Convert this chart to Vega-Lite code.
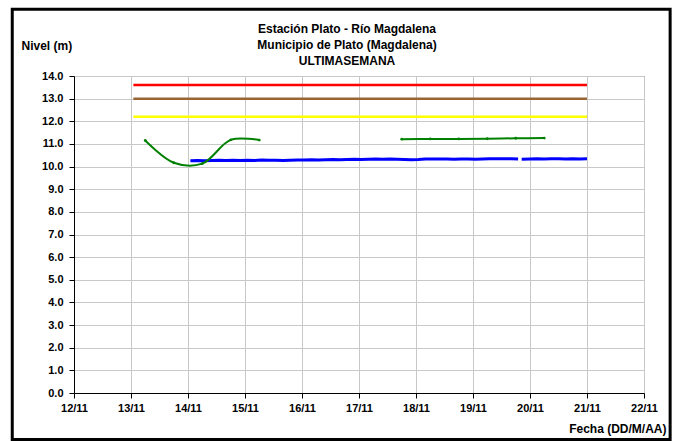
{
  "$schema": "https://vega.github.io/schema/vega-lite/v6.json",
  "autosize": {"type": "none"},
  "width": 570,
  "height": 317,
  "padding": {"left": 74, "top": 76, "right": 35, "bottom": 48},
  "background": "white",
  "config": {
    "font": "Liberation Sans",
    "view": {"stroke": "#808080", "strokeWidth": 1},
    "axis": {
      "labelFont": "Liberation Sans", "labelFontWeight": "bold", "labelFontSize": 11, "labelColor": "black",
      "titleFont": "Liberation Sans", "titleFontWeight": "bold", "titleFontSize": 12, "titleColor": "black",
      "domainColor": "black", "domainWidth": 1, "tickColor": "black", "tickSize": 5,
      "gridColor": "#c8c8c8", "gridWidth": 1, "gridOpacity": 1, "labelOverlap": false
    }
  },
  "title": {
    "text": ["Estación Plato - Río Magdalena", "Municipio de Plato (Magdalena)", "ULTIMASEMANA"],
    "frame": "group", "anchor": "middle", "dx": -12, "dy": 69, "offset": 9,
    "font": "Liberation Sans", "fontSize": 12, "fontWeight": "bold", "lineHeight": 16, "color": "black"
  },
  "resolve": {"axis": {"x": "independent", "y": "independent"}},
  "datasets": {
    "umbrales": [
      {"serie": "Roja", "t": "2012-11-13T01:00", "v": 13.6},
      {"serie": "Roja", "t": "2012-11-21T00:00", "v": 13.6},
      {"serie": "Naranja", "t": "2012-11-13T01:00", "v": 13.0},
      {"serie": "Naranja", "t": "2012-11-21T00:00", "v": 13.0},
      {"serie": "Amarilla", "t": "2012-11-13T01:00", "v": 12.2},
      {"serie": "Amarilla", "t": "2012-11-21T00:00", "v": 12.2}
    ],
    "nivel": [
      {"seg": "b1", "t": "2012-11-14T01:00", "v": 10.26},
      {"seg": "b1", "t": "2012-11-14T04:00", "v": 10.27},
      {"seg": "b1", "t": "2012-11-14T07:00", "v": 10.26},
      {"seg": "b1", "t": "2012-11-14T10:00", "v": 10.27},
      {"seg": "b1", "t": "2012-11-14T13:00", "v": 10.28},
      {"seg": "b1", "t": "2012-11-14T16:00", "v": 10.27},
      {"seg": "b1", "t": "2012-11-14T19:00", "v": 10.28},
      {"seg": "b1", "t": "2012-11-14T22:00", "v": 10.27},
      {"seg": "b1", "t": "2012-11-15T01:00", "v": 10.28},
      {"seg": "b1", "t": "2012-11-15T04:00", "v": 10.27},
      {"seg": "b1", "t": "2012-11-15T07:00", "v": 10.29},
      {"seg": "b1", "t": "2012-11-15T10:00", "v": 10.28},
      {"seg": "b1", "t": "2012-11-15T13:00", "v": 10.28},
      {"seg": "b1", "t": "2012-11-15T16:00", "v": 10.27},
      {"seg": "b1", "t": "2012-11-15T19:00", "v": 10.28},
      {"seg": "b1", "t": "2012-11-15T22:00", "v": 10.29},
      {"seg": "b1", "t": "2012-11-16T01:00", "v": 10.29},
      {"seg": "b1", "t": "2012-11-16T04:00", "v": 10.30},
      {"seg": "b1", "t": "2012-11-16T07:00", "v": 10.29},
      {"seg": "b1", "t": "2012-11-16T10:00", "v": 10.30},
      {"seg": "b1", "t": "2012-11-16T13:00", "v": 10.31},
      {"seg": "b1", "t": "2012-11-16T16:00", "v": 10.30},
      {"seg": "b1", "t": "2012-11-16T19:00", "v": 10.31},
      {"seg": "b1", "t": "2012-11-16T22:00", "v": 10.32},
      {"seg": "b1", "t": "2012-11-17T01:00", "v": 10.31},
      {"seg": "b1", "t": "2012-11-17T04:00", "v": 10.32},
      {"seg": "b1", "t": "2012-11-17T07:00", "v": 10.33},
      {"seg": "b1", "t": "2012-11-17T10:00", "v": 10.32},
      {"seg": "b1", "t": "2012-11-17T13:00", "v": 10.33},
      {"seg": "b1", "t": "2012-11-17T16:00", "v": 10.32},
      {"seg": "b1", "t": "2012-11-17T19:00", "v": 10.31},
      {"seg": "b1", "t": "2012-11-17T22:00", "v": 10.30},
      {"seg": "b1", "t": "2012-11-18T01:00", "v": 10.31},
      {"seg": "b1", "t": "2012-11-18T04:00", "v": 10.33},
      {"seg": "b1", "t": "2012-11-18T07:00", "v": 10.33},
      {"seg": "b1", "t": "2012-11-18T10:00", "v": 10.33},
      {"seg": "b1", "t": "2012-11-18T13:00", "v": 10.33},
      {"seg": "b1", "t": "2012-11-18T16:00", "v": 10.32},
      {"seg": "b1", "t": "2012-11-18T19:00", "v": 10.33},
      {"seg": "b1", "t": "2012-11-18T22:00", "v": 10.33},
      {"seg": "b1", "t": "2012-11-19T01:00", "v": 10.32},
      {"seg": "b1", "t": "2012-11-19T04:00", "v": 10.33},
      {"seg": "b1", "t": "2012-11-19T07:00", "v": 10.34},
      {"seg": "b1", "t": "2012-11-19T10:00", "v": 10.34},
      {"seg": "b1", "t": "2012-11-19T13:00", "v": 10.34},
      {"seg": "b1", "t": "2012-11-19T16:00", "v": 10.34},
      {"seg": "b1", "t": "2012-11-19T19:00", "v": 10.33},
      {"seg": "b2", "t": "2012-11-19T20:30", "v": 10.32},
      {"seg": "b2", "t": "2012-11-20T00:00", "v": 10.33},
      {"seg": "b2", "t": "2012-11-20T03:00", "v": 10.34},
      {"seg": "b2", "t": "2012-11-20T06:00", "v": 10.33},
      {"seg": "b2", "t": "2012-11-20T09:00", "v": 10.34},
      {"seg": "b2", "t": "2012-11-20T12:00", "v": 10.34},
      {"seg": "b2", "t": "2012-11-20T15:00", "v": 10.33},
      {"seg": "b2", "t": "2012-11-20T18:00", "v": 10.34},
      {"seg": "b2", "t": "2012-11-20T21:00", "v": 10.33},
      {"seg": "b2", "t": "2012-11-21T00:00", "v": 10.34}
    ],
    "verde": [
      {"seg": "g1", "t": "2012-11-13T06:00", "v": 11.15},
      {"seg": "g1", "t": "2012-11-13T18:00", "v": 10.17},
      {"seg": "g1", "t": "2012-11-14T06:00", "v": 10.13},
      {"seg": "g1", "t": "2012-11-14T18:00", "v": 11.18},
      {"seg": "g1", "t": "2012-11-15T06:00", "v": 11.17},
      {"seg": "g2", "t": "2012-11-17T18:00", "v": 11.21},
      {"seg": "g2", "t": "2012-11-18T06:00", "v": 11.22},
      {"seg": "g2", "t": "2012-11-18T18:00", "v": 11.22},
      {"seg": "g2", "t": "2012-11-19T06:00", "v": 11.23},
      {"seg": "g2", "t": "2012-11-19T18:00", "v": 11.25},
      {"seg": "g2", "t": "2012-11-20T06:00", "v": 11.26}
    ]
  },
  "layer": [
    {
      "data": {"name": "umbrales"},
      "mark": {"type": "line", "strokeWidth": 2.5},
      "encoding": {
        "x": {
          "field": "t", "type": "temporal",
          "scale": {"domain": [{"year": 2012, "month": 11, "date": 12}, {"year": 2012, "month": 11, "date": 22}]},
          "axis": {
            "title": "Fecha (DD/M/AA)", "format": "%d/%m",
            "tickCount": {"interval": "day", "step": 1},
            "labelPadding": 4, "labelFlush": false, "labelOverlap": false,
            "titleAnchor": "end", "titleAlign": "right", "titleX": 592, "titleY": 35, "titleBaseline": "middle"
          }
        },
        "y": {
          "field": "v", "type": "quantitative",
          "scale": {"domain": [0, 14], "nice": false, "zero": false},
          "axis": {
            "title": "Nivel (m)", "format": ".1f",
            "values": [0, 1, 2, 3, 4, 5, 6, 7, 8, 9, 10, 11, 12, 13, 14],
            "labelPadding": 6, "labelOverlap": false,
            "titleAngle": 0, "titleAlign": "left", "titleBaseline": "middle", "titleX": -53, "titleY": -31
          }
        },
        "color": {
          "field": "serie", "type": "nominal",
          "scale": {"domain": ["Roja", "Naranja", "Amarilla"], "range": ["#ff0000", "#996633", "#ffff00"]},
          "legend": null
        }
      }
    },
    {
      "data": {"name": "nivel"},
      "mark": {"type": "line", "strokeWidth": 3, "color": "#0000ff"},
      "encoding": {
        "x": {"field": "t", "type": "temporal", "axis": null},
        "y": {"field": "v", "type": "quantitative", "axis": null},
        "detail": {"field": "seg", "type": "nominal"}
      }
    },
    {
      "data": {"name": "verde"},
      "mark": {"type": "line", "strokeWidth": 2, "color": "#008000", "interpolate": "catmull-rom",
               "point": {"filled": true, "size": 8, "color": "#008000"}},
      "encoding": {
        "x": {"field": "t", "type": "temporal", "axis": null},
        "y": {"field": "v", "type": "quantitative", "axis": null},
        "detail": {"field": "seg", "type": "nominal"}
      }
    },
    {
      "data": {"values": [{"marco": "borde"}]},
      "mark": {"type": "rect", "fill": "transparent", "stroke": "black", "strokeWidth": 3, "clip": false},
      "encoding": {
        "x": {"datum": 1352584800000, "type": "temporal", "axis": null},
        "x2": {"datum": 1353582000000},
        "y": {"datum": 16.95, "type": "quantitative", "axis": null},
        "y2": {"datum": -2.05}
      }
    }
  ]
}
